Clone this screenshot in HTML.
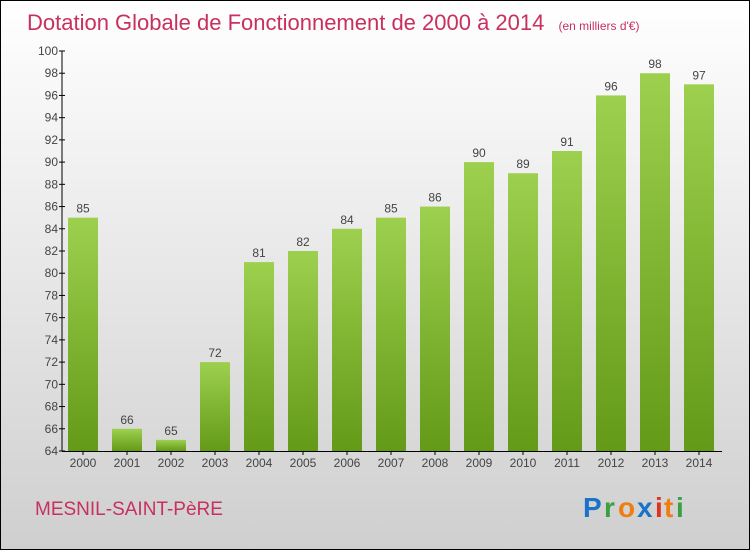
<!DOCTYPE html>
<html><head><meta charset="utf-8"><style>
body{margin:0}
#c{position:relative;width:748px;height:548px;border:1px solid #000;background:linear-gradient(#ffffff,#cfcfcf);font-family:"Liberation Sans",sans-serif;overflow:hidden}
</style></head><body>
<div id="c">
<svg width="748" height="548" style="position:absolute;left:0;top:0" id="svg">
<defs><linearGradient id="g" x1="0" y1="0" x2="0" y2="1"><stop offset="0" stop-color="#9dd04e"/><stop offset="1" stop-color="#639a17"/></linearGradient></defs>
<text x="26" y="29" font-size="22" fill="#c8305f">Dotation Globale de Fonctionnement de 2000 à 2014 <tspan font-size="12" dx="8">(en milliers d'€)</tspan></text>
<text x="34" y="514" font-size="19" fill="#c8305f">MESNIL-SAINT-PèRE</text>
<g font-size="28" font-weight="bold">
<text x="582" y="516" fill="#1a73c9">P</text><text x="603" y="516" fill="#3aa040">r</text><text x="617" y="516" fill="#f07d10">o</text><text x="636" y="516" fill="#1a73c9">x</text><text x="654" y="516" fill="#e03020">i</text><text x="663" y="516" fill="#f07d10">t</text><text x="675" y="516" fill="#3aa040">i</text>
</g>
<g id="plot"></g>
</svg>
</div>
<script>
const years=["2000","2001","2002","2003","2004","2005","2006","2007","2008","2009","2010","2011","2012","2013","2014"];
const values=[85,66,65,72,81,82,84,85,86,90,89,91,96,98,97];
const yTicks=[64,66,68,70,72,74,76,78,80,82,84,86,88,90,92,94,96,98,100];
const NS="http://www.w3.org/2000/svg";
const plotG=document.getElementById('plot');
const yMin=64,yMax=100,plotTop=50,plotBot=450,axX=61;
const yS=v=>plotBot-(v-yMin)/(yMax-yMin)*(plotBot-plotTop);
const xS=i=>82+i*44;
function mk(t,a){const e=document.createElementNS(NS,t);for(const k in a)e.setAttribute(k,a[k]);plotG.appendChild(e);return e;}
let ax=mk('line',{x1:axX,y1:plotTop,x2:axX,y2:plotBot,stroke:'#000'});


let bx=mk('line',{x1:axX,y1:plotBot+0.5,x2:721,y2:plotBot+0.5,stroke:'#000'});


yTicks.forEach(v=>{
 mk('line',{x1:axX-3,y1:yS(v),x2:axX+3,y2:yS(v),stroke:'#000'});
 const t=mk('text',{x:axX-4,y:yS(v)+4,'font-size':12,fill:'#444','text-anchor':'end'});
 t.textContent=v;
 
 
});
years.forEach((yr,i)=>{
 const v=values[i];
 const r=mk('rect',{x:xS(i)-15,y:yS(v),width:30,height:plotBot-yS(v),fill:'url(#g)'});
 
 
 const l=mk('text',{x:xS(i),y:yS(v)-5,'font-size':12,fill:'#444','text-anchor':'middle'});
 l.textContent=v;
 
 
 mk('line',{x1:xS(i),y1:plotBot,x2:xS(i),y2:plotBot+4,stroke:'#000'});
 const xl=mk('text',{x:xS(i),y:plotBot+16,'font-size':12,fill:'#444','text-anchor':'middle'});
 xl.textContent=yr;
 
 
});
</script>
</body></html>
